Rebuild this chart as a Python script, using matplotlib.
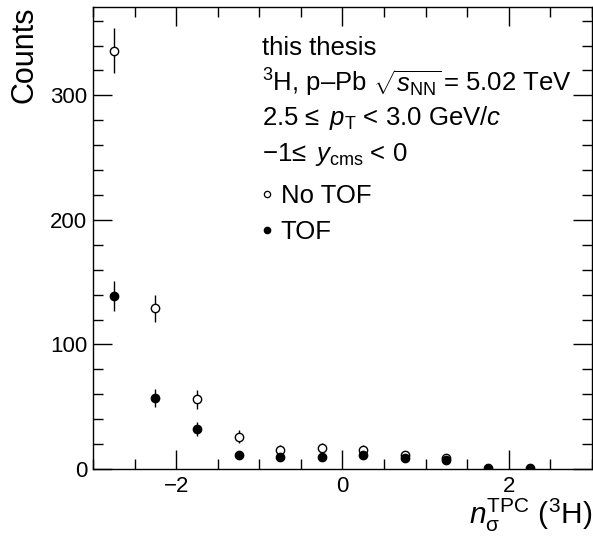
import matplotlib
matplotlib.use("Agg")
import matplotlib.pyplot as plt
from matplotlib.lines import Line2D
from matplotlib.ticker import MultipleLocator

plt.rcParams['font.family'] = ['Liberation Sans', 'DejaVu Sans']
plt.rcParams['mathtext.fontset'] = 'custom'
plt.rcParams['mathtext.rm'] = 'Liberation Sans'
plt.rcParams['mathtext.it'] = 'Liberation Sans:italic'
plt.rcParams['mathtext.bf'] = 'Liberation Sans:bold'

# Data
x_centers = [-2.75, -2.25, -1.75, -1.25, -0.75, -0.25, 0.25, 0.75, 1.25, 1.75, 2.25]
notof = [336, 129, 56, 26, 15, 17, 15, 11, 9, 0, 0]
notof_err = [18, 11, 7.5, 5, 4, 4, 4, 3.3, 3, 0, 0]
tof = [139, 57, 32, 11, 10, 10, 11, 9, 7, 1, 1]
tof_err = [12, 7.5, 5.7, 3.3, 3.2, 3.2, 3.3, 3, 2.6, 1, 1]
xtick_vals = [-2, 0, 2]
xtick_labels = ['\u22122', '0', '2']

fig = plt.figure(figsize=(5.93, 5.41), dpi=100)
ax = fig.add_axes([0.1568, 0.1331, 0.8415, 0.854])

xn = [x for x, v in zip(x_centers, notof) if v > 0]
yn = [v for v in notof if v > 0]
en = [e for e, v in zip(notof_err, notof) if v > 0]

ax.errorbar(xn, yn, yerr=en, fmt='o', ms=6, mfc='white', mec='black',
            mew=1.0, ecolor='black', elinewidth=1.0, capsize=0, zorder=3)
ax.errorbar(x_centers, tof, yerr=tof_err, fmt='o', ms=6, mfc='black', mec='black',
            ecolor='black', elinewidth=1.0, capsize=0, zorder=4)

ax.set_xlim(-3, 3)
ax.set_ylim(0, 371)
ax.xaxis.set_major_locator(MultipleLocator(2))
ax.xaxis.set_minor_locator(MultipleLocator(0.5))
ax.yaxis.set_major_locator(MultipleLocator(100))
ax.yaxis.set_minor_locator(MultipleLocator(20))
ax.tick_params(which='both', direction='in', top=True, right=True, labelsize=16, width=1.0)
ax.tick_params(which='major', length=14)
ax.tick_params(which='minor', length=7)
ax.tick_params(axis='x', pad=5)
ax.tick_params(axis='y', pad=4)
ax.set_xticks(xtick_vals)
ax.set_xticklabels(xtick_labels)
for s in ax.spines.values():
    s.set_linewidth(1.0)

ax.set_ylabel('Counts', fontsize=22, loc='top', labelpad=8)
ax.set_xlabel('$n_{\\rm \u03c3}^{\\rm TPC}$ ($^{3}$H)', fontsize=21.5, loc='right', labelpad=0)

tx = 0.339
fs = 18.5
def yax(py):
    return (469 - py) / 462
ax.text(tx, yax(48), 'this thesis', transform=ax.transAxes, fontsize=fs, va='center')
ax.text(tx, yax(83), '$^{3}$H, p\u2013Pb $\\sqrt{s_{\\rm NN}}\\,$= 5.02 TeV',
        transform=ax.transAxes, fontsize=fs, va='center')
ax.text(tx, yax(118), '2.5 \u2264 $\\,p_{\\rm T}$ < 3.0 GeV/$c$',
        transform=ax.transAxes, fontsize=fs, va='center')
ax.text(tx, yax(155), '\u22121\u2264 $\\,y_{\\rm cms}$ < 0',
        transform=ax.transAxes, fontsize=fs, va='center')

handles = [Line2D([], [], ls='none', marker='o', ms=4.5, mfc='white', mec='black', mew=0.9),
           Line2D([], [], ls='none', marker='o', ms=4.5, mfc='black', mec='black')]
leg = ax.legend(handles, ['No TOF', 'TOF'], loc='center left',
                bbox_to_anchor=(0.33, yax(214)), frameon=False,
                fontsize=fs, handlelength=0.7, handletextpad=0.2, labelspacing=0.45,
                borderpad=0, borderaxespad=0)

fig.savefig('out.png', dpi=100)
